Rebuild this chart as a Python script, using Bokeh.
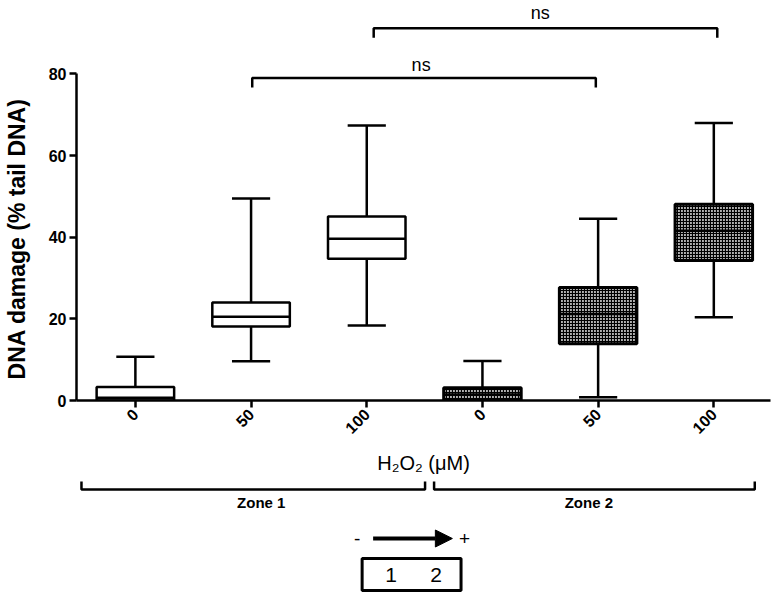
import math
from bokeh.plotting import figure
from bokeh.models import Range1d, FixedTicker, ColumnDataSource, Arrow, NormalHead
from bokeh.layouts import column
from bokeh.core.properties import value
from bokeh.embed import file_html
from bokeh.resources import INLINE

# ---- data ----
doses = ["0", "50", "100", "0", "50", "100"]
zones = ["Zone 1", "Zone 1", "Zone 1", "Zone 2", "Zone 2", "Zone 2"]
whisk_low = [0.0, 9.6, 18.4, 0.0, 0.8, 20.4]
q1 = [0.0, 18.1, 34.7, 0.0, 13.9, 34.3]
median = [0.7, 20.5, 39.6, 1.5, 21.2, 41.6]
q3 = [3.3, 24.0, 45.1, 3.1, 27.7, 48.1]
whisk_high = [10.7, 49.5, 67.4, 9.7, 44.5, 68.0]
y_ticks = [0, 20, 40, 60, 80]

FONT = value("Liberation Sans")
pos = list(range(len(doses)))
BW = 0.67
CW = 0.33
LW = 2.5

src = ColumnDataSource(dict(
    x=pos, lo=whisk_low, q1=q1, med=median, q3=q3, hi=whisk_high,
    xl=[p - BW / 2 for p in pos], xr=[p + BW / 2 for p in pos],
    cl=[p - CW / 2 for p in pos], cr=[p + CW / 2 for p in pos],
))
z1 = [i for i, z in enumerate(zones) if z == "Zone 1"]
z2 = [i for i, z in enumerate(zones) if z == "Zone 2"]

xr = Range1d(-0.509, 5.49)
p = figure(width=776, height=476, x_range=xr, y_range=Range1d(0, 98),
           output_backend="svg", toolbar_location=None, title=None,
           min_border_left=75, min_border_right=6, min_border_top=0,
           min_border_bottom=73)
p.outline_line_color = None
p.grid.visible = False

# whiskers
p.segment(x0="x", y0="lo", x1="x", y1="q1", source=src, line_width=LW, line_color="black")
p.segment(x0="x", y0="q3", x1="x", y1="hi", source=src, line_width=LW, line_color="black")
p.segment(x0="cl", y0="hi", x1="cr", y1="hi", source=src, line_width=LW, line_color="black")
p.segment(x0="cl", y0="lo", x1="cr", y1="lo", source=src, line_width=LW, line_color="black")

# boxes
s1 = ColumnDataSource({k: [v[i] for i in z1] for k, v in src.data.items()})
s2 = ColumnDataSource({k: [v[i] for i in z2] for k, v in src.data.items()})
p.vbar(x="x", width=BW, top="q3", bottom="q1", source=s1, fill_color="white",
       line_color="black", line_width=LW)
p.vbar(x="x", width=BW, top="q3", bottom="q1", source=s2, fill_color="#b0b0b0",
       hatch_pattern="cross", hatch_scale=3, hatch_weight=1.2, hatch_color="black",
       line_color="black", line_width=LW + 0.5)
p.segment(x0="xl", y0="med", x1="xr", y1="med", source=src, line_width=LW, line_color="black")

# significance brackets
br_x0 = [1.01, 2.06]
br_x1 = [3.98, 5.03]
br_y = [79.0, 91.2]
br_drop = 2.3
p.multi_line(xs=[[a, a, b, b] for a, b in zip(br_x0, br_x1)],
             ys=[[y - br_drop, y, y, y - br_drop] for y in br_y],
             line_width=LW, line_color="black")
p.text(x=[2.47, 3.5], y=[82.3, 95.0], text=["ns", "ns"], text_font=FONT,
       text_font_size="18px", text_align="center", text_baseline="middle",
       text_color="black")

# axes
p.yaxis.bounds = (0, 80)
p.yaxis.ticker = FixedTicker(ticks=y_ticks)
# trailing no-break spaces centre the label on the 0-80 axis span rather than the frame
p.yaxis.axis_label = "DNA damage (% tail DNA)" + "\u00a0" * 12
p.xaxis.ticker = FixedTicker(ticks=pos)
p.xaxis.major_label_overrides = {i: d for i, d in enumerate(doses)}
p.xaxis.major_label_orientation = math.pi / 4
p.xaxis.axis_label = "H\u2082O\u2082 (\u03bcM)"
for ax in (p.xaxis[0], p.yaxis[0]):
    ax.axis_line_width = LW
    ax.major_tick_line_width = LW
    ax.major_tick_out = 7
    ax.major_tick_in = 0
    ax.minor_tick_line_color = None
    ax.major_label_text_font = "Liberation Sans"
    ax.major_label_text_font_style = "bold"
    ax.major_label_text_font_size = "16px"
    ax.major_label_text_color = "black"
    ax.axis_label_text_font = "Liberation Sans"
    ax.axis_label_text_color = "black"
    ax.axis_line_color = "black"
    ax.major_tick_line_color = "black"
p.yaxis.major_label_standoff = 3
p.yaxis.axis_label_standoff = 16
p.yaxis.axis_label_text_font_style = "bold"
p.yaxis.axis_label_text_font_size = "23px"
p.xaxis.major_label_standoff = 4
p.xaxis.axis_label_standoff = 10
p.xaxis.axis_label_text_font_style = "normal"
p.xaxis.axis_label_text_font_size = "20px"

# ---- lower panel: zones, direction arrow, zone box ----
q = figure(width=776, height=121, x_range=xr, y_range=Range1d(121, 0),
           output_backend="svg", toolbar_location=None, title=None,
           min_border_left=75, min_border_right=6, min_border_top=0,
           min_border_bottom=0)
q.axis.visible = False
q.grid.visible = False
q.outline_line_color = None

zone_names = ["Zone 1", "Zone 2"]
zone_x0 = [-0.466, 2.582]
zone_x1 = [2.504, 5.354]
q.multi_line(xs=[[a, a, b, b] for a, b in zip(zone_x0, zone_x1)],
             ys=[[5, 13, 13, 5] for _ in zone_names],
             line_width=LW, line_color="black")
q.text(x=[1.088, 3.92], y=[26, 26], text=zone_names, text_font=FONT,
       text_font_style="bold", text_font_size="15px", text_align="center",
       text_baseline="middle", text_color="black")

q.add_layout(Arrow(end=NormalHead(size=17, fill_color="black", line_color="black"),
                   x_start=2.055, y_start=62, x_end=2.74, y_end=62,
                   line_width=4, line_color="black"))
q.text(x=[1.917, 2.845], y=[62, 62], text=["-", "+"], text_font=FONT,
       text_font_size="19px", text_align="center", text_baseline="middle",
       text_color="black")
q.quad(left=[1.96], right=[2.815], top=[82], bottom=[114], fill_color=None,
       line_color="black", line_width=3)
q.text(x=[2.21, 2.60], y=[98, 98], text=["1", "2"], text_font=FONT,
       text_font_size="21px", text_align="center", text_baseline="middle",
       text_color="black")

layout = column(p, q, spacing=0)
open("out.html", "w").write(file_html(layout, INLINE))
